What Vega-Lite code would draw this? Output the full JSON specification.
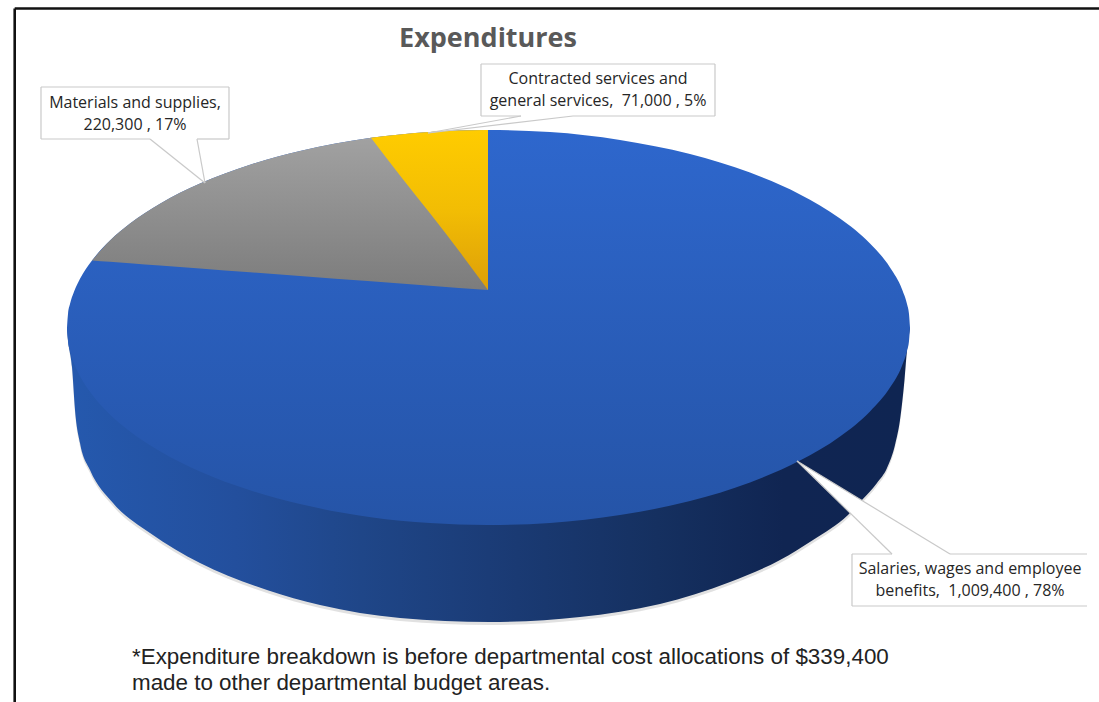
{
  "$schema": "https://vega.github.io/schema/vega-lite/v6.json",
  "width": 1099,
  "height": 702,
  "padding": 0,
  "autosize": "none",
  "background": "#ffffff",
  "view": {"stroke": null},
  "datasets": {
    "frame": [
      {"x": 14.7, "x2": 1099, "y": 8.5, "y2": 8.5},
      {"x": 14.7, "x2": 14.7, "y": 8.5, "y2": 702}
    ],
    "wall": [
      {"x": 67, "top": 327.5, "bottom": 330, "shade": 332},
      {"x": 68, "top": 327.5, "bottom": 340, "shade": 342},
      {"x": 72, "top": 327.5, "bottom": 367, "shade": 370},
      {"x": 75, "top": 327.5, "bottom": 410, "shade": 413},
      {"x": 80, "top": 327.5, "bottom": 443, "shade": 446},
      {"x": 90, "top": 327.5, "bottom": 470, "shade": 473},
      {"x": 113, "top": 327.5, "bottom": 503, "shade": 506},
      {"x": 150, "top": 327.5, "bottom": 533, "shade": 536},
      {"x": 200, "top": 327.5, "bottom": 563, "shade": 566},
      {"x": 267, "top": 327.5, "bottom": 590, "shade": 593},
      {"x": 320, "top": 327.5, "bottom": 605, "shade": 608},
      {"x": 400, "top": 327.5, "bottom": 618, "shade": 621},
      {"x": 490, "top": 327.5, "bottom": 622, "shade": 625},
      {"x": 580, "top": 327.5, "bottom": 617, "shade": 620},
      {"x": 660, "top": 327.5, "bottom": 604, "shade": 607},
      {"x": 730, "top": 327.5, "bottom": 582, "shade": 585},
      {"x": 780, "top": 327.5, "bottom": 560, "shade": 563},
      {"x": 813, "top": 327.5, "bottom": 540, "shade": 543},
      {"x": 848, "top": 327.5, "bottom": 515, "shade": 518},
      {"x": 862, "top": 327.5, "bottom": 500, "shade": 503},
      {"x": 877, "top": 327.5, "bottom": 483, "shade": 486},
      {"x": 887, "top": 327.5, "bottom": 468, "shade": 471},
      {"x": 895, "top": 327.5, "bottom": 445, "shade": 448},
      {"x": 900, "top": 327.5, "bottom": 420, "shade": 423},
      {"x": 904, "top": 327.5, "bottom": 385, "shade": 388},
      {"x": 907, "top": 327.5, "bottom": 350, "shade": 352},
      {"x": 910, "top": 327.5, "bottom": 328, "shade": 329}
    ],
    "salaries": [
      {"x": 67, "upper": 327.5, "lower": 327.5},
      {"x": 68, "upper": 313.9, "lower": 341.1},
      {"x": 70, "upper": 304, "lower": 351},
      {"x": 74, "upper": 291.7, "lower": 363.3},
      {"x": 80, "upper": 278.8, "lower": 376.2},
      {"x": 92, "upper": 260.5, "lower": 394.5},
      {"x": 110, "upper": 240.6, "lower": 414.4},
      {"x": 130, "upper": 223.6, "lower": 431.4},
      {"x": 160, "upper": 203.7, "lower": 451.3},
      {"x": 200, "upper": 183.5, "lower": 471.5},
      {"x": 250, "upper": 164.7, "lower": 490.3},
      {"x": 300, "upper": 150.9, "lower": 504.1},
      {"x": 371, "upper": 137.8, "lower": 517.2},
      {"x": 430, "upper": 131.9, "lower": 523.1},
      {"x": 488, "upper": 130, "lower": 525},
      {"x": 550, "upper": 132.1, "lower": 522.9},
      {"x": 620, "upper": 139.9, "lower": 515.1},
      {"x": 690, "upper": 154, "lower": 501},
      {"x": 750, "upper": 172.6, "lower": 482.4},
      {"x": 800, "upper": 194.4, "lower": 460.6},
      {"x": 840, "upper": 218.5, "lower": 436.5},
      {"x": 870, "upper": 243.5, "lower": 411.5},
      {"x": 890, "upper": 267.4, "lower": 387.6},
      {"x": 902, "upper": 289.2, "lower": 365.8},
      {"x": 907, "upper": 304, "lower": 351},
      {"x": 909, "upper": 313.9, "lower": 341.1},
      {"x": 910, "upper": 327.5, "lower": 327.5}
    ],
    "materials": [
      {"x": 92, "upper": 260.5, "lower": 260.5},
      {"x": 110, "upper": 240.6, "lower": 261.8},
      {"x": 130, "upper": 223.6, "lower": 263.3},
      {"x": 160, "upper": 203.7, "lower": 265.6},
      {"x": 200, "upper": 183.5, "lower": 268.5},
      {"x": 250, "upper": 164.7, "lower": 272.3},
      {"x": 300, "upper": 150.9, "lower": 276},
      {"x": 371, "upper": 137.8, "lower": 281.3},
      {"x": 430, "upper": 131.9, "lower": 285.7},
      {"x": 488, "upper": 130, "lower": 290}
    ],
    "contracted": [
      {"x": 371, "upper": 137.8, "lower": 137.8},
      {"x": 400, "upper": 134.4, "lower": 175.5},
      {"x": 430, "upper": 131.9, "lower": 213.3},
      {"x": 460, "upper": 130.5, "lower": 252.3},
      {"x": 488, "upper": 130, "lower": 290}
    ],
    "pointer": [
      {"x": 797, "upper": 461, "lower": 461},
      {"x": 892, "upper": 518.7, "lower": 554},
      {"x": 950, "upper": 554, "lower": 554}
    ],
    "callouts": [
      {"x": 41, "x2": 229, "y": 87, "y2": 87},
      {"x": 41, "x2": 150, "y": 139, "y2": 139},
      {"x": 197, "x2": 229, "y": 139, "y2": 139},
      {"x": 41, "x2": 41, "y": 87, "y2": 139},
      {"x": 229, "x2": 229, "y": 87, "y2": 139},
      {"x": 150, "x2": 205, "y": 139, "y2": 183},
      {"x": 197, "x2": 205, "y": 139, "y2": 183},
      {"x": 481, "x2": 715, "y": 64, "y2": 64},
      {"x": 481, "x2": 521, "y": 116, "y2": 116},
      {"x": 573, "x2": 715, "y": 116, "y2": 116},
      {"x": 481, "x2": 481, "y": 64, "y2": 116},
      {"x": 715, "x2": 715, "y": 64, "y2": 116},
      {"x": 428, "x2": 521, "y": 133, "y2": 116},
      {"x": 428, "x2": 573, "y": 133, "y2": 116},
      {"x": 852, "x2": 892, "y": 554, "y2": 554},
      {"x": 950, "x2": 1087, "y": 554, "y2": 554},
      {"x": 852, "x2": 1087, "y": 606, "y2": 606},
      {"x": 852, "x2": 852, "y": 554, "y2": 606},
      {"x": 797, "x2": 892, "y": 461, "y2": 554},
      {"x": 797, "x2": 950, "y": 461, "y2": 554}
    ],
    "labels": [
      {"x": 135, "y": 108, "line": "Materials and supplies,"},
      {"x": 135, "y": 130, "line": "220,300 , 17%"},
      {"x": 598, "y": 84, "line": "Contracted services and"},
      {"x": 598, "y": 106, "line": "general services,\u00a0 71,000 , 5%"},
      {"x": 970, "y": 574, "line": "Salaries, wages and employee"},
      {"x": 970, "y": 596, "line": "benefits,\u00a0 1,009,400 , 78%"}
    ],
    "heading": [
      {"x": 488, "y": 47, "line": "Expenditures"}
    ],
    "note": [
      {"x": 132, "y": 664, "line": "*Expenditure breakdown is before departmental cost allocations of $339,400"},
      {"x": 132, "y": 690, "line": "made to other departmental budget areas."}
    ]
  },
  "layer": [
    {
      "data": {"name": "frame"},
      "mark": {"type": "rule", "color": "#111111", "strokeWidth": 2.6},
      "encoding": {
        "x": {"field": "x", "type": "quantitative", "axis": null, "scale": {"domain": [0, 1099], "nice": false, "zero": false}},
        "x2": {"field": "x2"},
        "y": {"field": "y", "type": "quantitative", "axis": null, "scale": {"domain": [702, 0], "nice": false, "zero": false}},
        "y2": {"field": "y2"}
      }
    },
    {
      "data": {"name": "wall"},
      "mark": {"type": "area", "interpolate": "monotone", "color": "#777777", "opacity": 0.22},
      "encoding": {
        "x": {"field": "x", "type": "quantitative", "axis": null, "scale": {"domain": [0, 1099], "nice": false, "zero": false}},
        "y": {"field": "top", "type": "quantitative", "axis": null, "scale": {"domain": [702, 0], "nice": false, "zero": false}},
        "y2": {"field": "shade"}
      }
    },
    {
      "data": {"name": "wall"},
      "mark": {
        "type": "area",
        "interpolate": "monotone",
        "color": {
          "gradient": "linear", "x1": 0, "y1": 0, "x2": 1, "y2": 0,
          "stops": [
            {"offset": 0, "color": "#2559ae"},
            {"offset": 0.2, "color": "#234f9d"},
            {"offset": 0.35, "color": "#1f4688"},
            {"offset": 0.5, "color": "#1b3c77"},
            {"offset": 0.7, "color": "#153060"},
            {"offset": 0.85, "color": "#102552"},
            {"offset": 1, "color": "#0f2552"}
          ]
        }
      },
      "encoding": {
        "x": {"field": "x", "type": "quantitative", "axis": null, "scale": {"domain": [0, 1099], "nice": false, "zero": false}},
        "y": {"field": "top", "type": "quantitative", "axis": null, "scale": {"domain": [702, 0], "nice": false, "zero": false}},
        "y2": {"field": "bottom"}
      }
    },
    {
      "data": {"name": "salaries"},
      "mark": {
        "type": "area",
        "interpolate": "monotone",
        "color": {
          "gradient": "linear", "x1": 0, "y1": 0, "x2": 0, "y2": 1,
          "stops": [
            {"offset": 0, "color": "#2e67cd"},
            {"offset": 1, "color": "#2554a7"}
          ]
        }
      },
      "encoding": {
        "x": {"field": "x", "type": "quantitative", "axis": null, "scale": {"domain": [0, 1099], "nice": false, "zero": false}},
        "y": {"field": "upper", "type": "quantitative", "axis": null, "scale": {"domain": [702, 0], "nice": false, "zero": false}},
        "y2": {"field": "lower"}
      }
    },
    {
      "data": {"name": "materials"},
      "mark": {
        "type": "area",
        "interpolate": "monotone",
        "color": {
          "gradient": "linear", "x1": 0, "y1": 0, "x2": 0, "y2": 1,
          "stops": [
            {"offset": 0, "color": "#a3a3a3"},
            {"offset": 1, "color": "#7c7c7c"}
          ]
        }
      },
      "encoding": {
        "x": {"field": "x", "type": "quantitative", "axis": null, "scale": {"domain": [0, 1099], "nice": false, "zero": false}},
        "y": {"field": "upper", "type": "quantitative", "axis": null, "scale": {"domain": [702, 0], "nice": false, "zero": false}},
        "y2": {"field": "lower"}
      }
    },
    {
      "data": {"name": "contracted"},
      "mark": {
        "type": "area",
        "interpolate": "monotone",
        "color": {
          "gradient": "linear", "x1": 0, "y1": 0, "x2": 0, "y2": 1,
          "stops": [
            {"offset": 0, "color": "#ffcc00"},
            {"offset": 0.5, "color": "#f2bd04"},
            {"offset": 1, "color": "#dd9f08"}
          ]
        }
      },
      "encoding": {
        "x": {"field": "x", "type": "quantitative", "axis": null, "scale": {"domain": [0, 1099], "nice": false, "zero": false}},
        "y": {"field": "upper", "type": "quantitative", "axis": null, "scale": {"domain": [702, 0], "nice": false, "zero": false}},
        "y2": {"field": "lower"}
      }
    },
    {
      "data": {"name": "pointer"},
      "mark": {"type": "area", "color": "#ffffff"},
      "encoding": {
        "x": {"field": "x", "type": "quantitative", "axis": null, "scale": {"domain": [0, 1099], "nice": false, "zero": false}},
        "y": {"field": "upper", "type": "quantitative", "axis": null, "scale": {"domain": [702, 0], "nice": false, "zero": false}},
        "y2": {"field": "lower"}
      }
    },
    {
      "data": {"name": "callouts"},
      "mark": {"type": "rule", "color": "#c9c9c9", "strokeWidth": 1.2},
      "encoding": {
        "x": {"field": "x", "type": "quantitative", "axis": null, "scale": {"domain": [0, 1099], "nice": false, "zero": false}},
        "x2": {"field": "x2"},
        "y": {"field": "y", "type": "quantitative", "axis": null, "scale": {"domain": [702, 0], "nice": false, "zero": false}},
        "y2": {"field": "y2"}
      }
    },
    {
      "data": {"name": "labels"},
      "mark": {"type": "text", "font": "Open Sans", "fontSize": 16, "color": "#262626", "align": "center", "baseline": "alphabetic"},
      "encoding": {
        "x": {"field": "x", "type": "quantitative", "axis": null, "scale": {"domain": [0, 1099], "nice": false, "zero": false}},
        "y": {"field": "y", "type": "quantitative", "axis": null, "scale": {"domain": [702, 0], "nice": false, "zero": false}},
        "text": {"field": "line"}
      }
    },
    {
      "data": {"name": "heading"},
      "mark": {"type": "text", "font": "Open Sans", "fontWeight": "bold", "fontSize": 27, "color": "#595959", "align": "center", "baseline": "alphabetic"},
      "encoding": {
        "x": {"field": "x", "type": "quantitative", "axis": null, "scale": {"domain": [0, 1099], "nice": false, "zero": false}},
        "y": {"field": "y", "type": "quantitative", "axis": null, "scale": {"domain": [702, 0], "nice": false, "zero": false}},
        "text": {"field": "line"}
      }
    },
    {
      "data": {"name": "note"},
      "mark": {"type": "text", "font": "Liberation Sans", "fontSize": 22.4, "color": "#222222", "align": "left", "baseline": "alphabetic"},
      "encoding": {
        "x": {"field": "x", "type": "quantitative", "axis": null, "scale": {"domain": [0, 1099], "nice": false, "zero": false}},
        "y": {"field": "y", "type": "quantitative", "axis": null, "scale": {"domain": [702, 0], "nice": false, "zero": false}},
        "text": {"field": "line"}
      }
    }
  ]
}
